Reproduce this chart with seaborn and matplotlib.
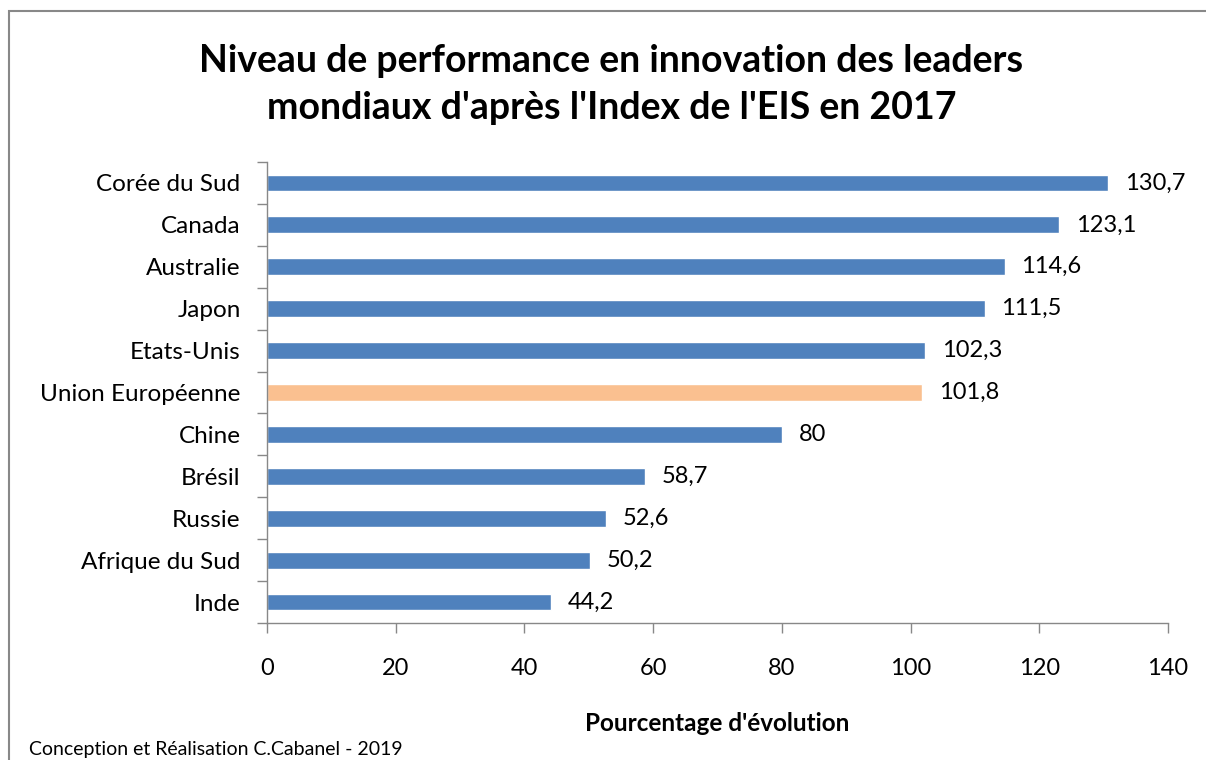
import matplotlib
matplotlib.use("Agg")
import matplotlib.pyplot as plt
import matplotlib.patches as patches
import numpy as np
import pandas as pd
import seaborn as sns

pays = ["Corée du Sud", "Canada", "Australie", "Japon", "Etats-Unis",
        "Union Européenne", "Chine", "Brésil", "Russie", "Afrique du Sud", "Inde"]
valeurs = [130.7, 123.1, 114.6, 111.5, 102.3, 101.8, 80, 58.7, 52.6, 50.2, 44.2]
etiquettes = ["130,7", "123,1", "114,6", "111,5", "102,3", "101,8", "80",
              "58,7", "52,6", "50,2", "44,2"]
ticks_x = [0, 20, 40, 60, 80, 100, 120, 140]

bleu = "#4F81BD"
orange = "#FAC090"
couleurs = [orange if p == "Union Européenne" else bleu for p in pays]

sns.set_style("white")
plt.rcParams['font.family'] = ['Lato', 'DejaVu Sans']
for k in ["text.color", "axes.labelcolor", "xtick.labelcolor", "ytick.labelcolor"]:
    plt.rcParams[k] = "black"

df = pd.DataFrame({"pays": pays, "valeur": valeurs})

fig = plt.figure(figsize=(12.06, 7.6), dpi=100)
ax = fig.add_axes([267 / 1206, 1 - 623 / 760, (1168 - 267) / 1206, (623 - 162) / 760])

sns.barplot(data=df, x="valeur", y="pays", hue="pays", palette=couleurs,
            width=0.4, legend=False, ax=ax, saturation=1)

ax.set_xlim(0, 140)
ax.set_ylim(len(pays) - 0.5, -0.5)
ax.set_xticks(ticks_x)
ax.set_xticklabels([str(t) for t in ticks_x], fontsize=17)
ax.tick_params(axis="x", bottom=True, length=7, width=1, color="#888888", pad=18)

# ticks de l'axe y sur les limites de catégories
ax.set_yticks(np.arange(len(pays)))
ax.set_yticklabels(pays, fontsize=17.5)
ax.set_yticks(np.arange(-0.5, len(pays), 1), minor=True)
ax.tick_params(axis="y", which="major", left=True, length=0, pad=19)
ax.tick_params(axis="y", which="minor", left=True, length=7, width=1, color="#888888")

for s in ["top", "right"]:
    ax.spines[s].set_visible(False)
for s in ["left", "bottom"]:
    ax.spines[s].set_color("#888888")
    ax.spines[s].set_linewidth(1)

for i, (v, lab) in enumerate(zip(valeurs, etiquettes)):
    ax.text(v + 2.6, i, lab, va="center", ha="left", fontsize=17)

ax.set_ylabel("")
ax.set_xlabel("Pourcentage d'évolution", fontsize=17.5, fontweight="bold", labelpad=24)

fig.text(0.507, 0.889, "Niveau de performance en innovation des leaders\nmondiaux d'après l'Index de l'EIS en 2017",
         ha="center", va="center", fontsize=27, fontweight="bold", linespacing=1.45)

fig.text(29 / 1206, 1 - 750 / 760, "Conception et Réalisation C.Cabanel - 2019",
         ha="left", va="center", fontsize=14)

cadre = patches.Rectangle((9 / 1206, -0.1), 1.2, 1 - 11 / 760 + 0.1,
                          transform=fig.transFigure, fill=False,
                          edgecolor="#888888", linewidth=1.5)
fig.patches.append(cadre)

fig.savefig("out.png", dpi=100)
